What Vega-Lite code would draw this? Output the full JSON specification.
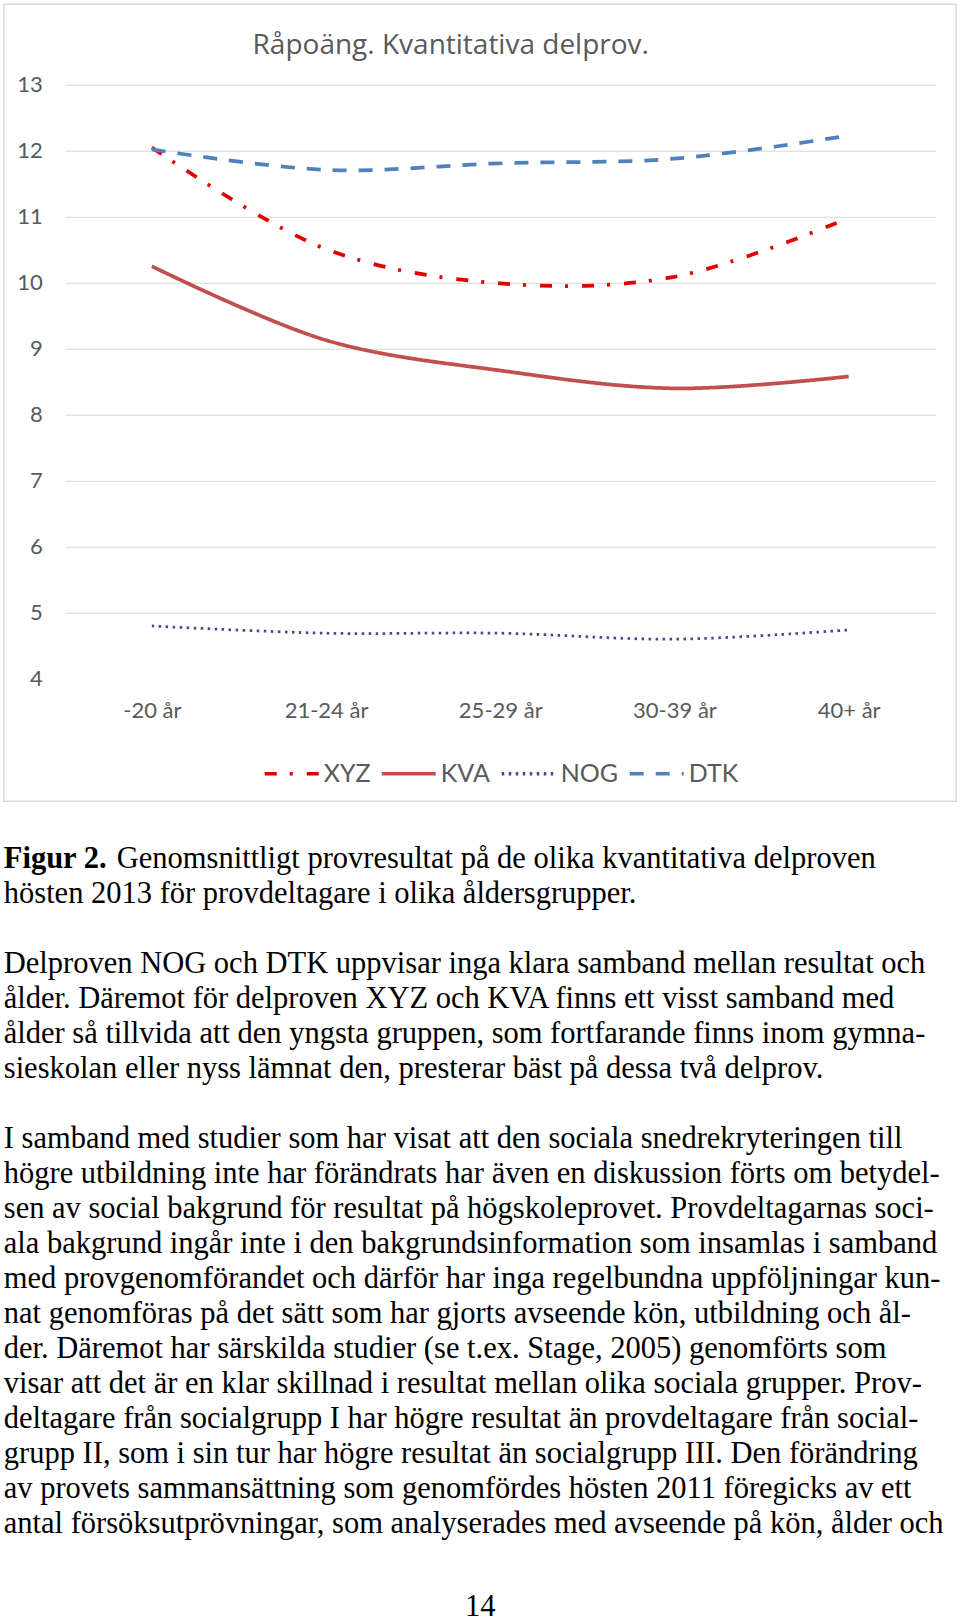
{
  "$schema": "https://vega.github.io/schema/vega-lite/v6.json",
  "background": "white",
  "padding": {"left": 2.75, "top": 2.75, "right": 0, "bottom": 0},
  "autosize": {"type": "pad"},
  "spacing": 39,
  "resolve": {"legend": {"color": "independent", "strokeDash": "independent"}},
  "datasets": {
    "scores": [
      {"series": "XYZ", "age": "-20 år", "score": 12.05},
      {"series": "XYZ", "age": "21-24 år", "score": 10.51},
      {"series": "XYZ", "age": "25-29 år", "score": 9.99},
      {"series": "XYZ", "age": "30-39 år", "score": 10.09},
      {"series": "XYZ", "age": "40+ år", "score": 10.98},
      {"series": "KVA", "age": "-20 år", "score": 10.25},
      {"series": "KVA", "age": "21-24 år", "score": 9.13},
      {"series": "KVA", "age": "25-29 år", "score": 8.67},
      {"series": "KVA", "age": "30-39 år", "score": 8.4},
      {"series": "KVA", "age": "40+ år", "score": 8.58},
      {"series": "NOG", "age": "-20 år", "score": 4.8},
      {"series": "NOG", "age": "21-24 år", "score": 4.69},
      {"series": "NOG", "age": "25-29 år", "score": 4.69},
      {"series": "NOG", "age": "30-39 år", "score": 4.6},
      {"series": "NOG", "age": "40+ år", "score": 4.74},
      {"series": "DTK", "age": "-20 år", "score": 12.02},
      {"series": "DTK", "age": "21-24 år", "score": 11.71},
      {"series": "DTK", "age": "25-29 år", "score": 11.81},
      {"series": "DTK", "age": "30-39 år", "score": 11.88},
      {"series": "DTK", "age": "40+ år", "score": 12.23}
    ],
    "page": [
      {"line": 0, "kind": "lead", "text": "Figur 2."},
      {"line": 0, "kind": "caption", "text": "Genomsnittligt provresultat på de olika kvantitativa delproven"},
      {"line": 1, "kind": "body", "text": "hösten 2013 för provdeltagare i olika åldersgrupper."},
      {"line": 3, "kind": "body", "text": "Delproven NOG och DTK uppvisar inga klara samband mellan resultat och"},
      {"line": 4, "kind": "body", "text": "ålder. Däremot för delproven XYZ och KVA finns ett visst samband med"},
      {"line": 5, "kind": "body", "text": "ålder så tillvida att den yngsta gruppen, som fortfarande finns inom gymna-"},
      {"line": 6, "kind": "body", "text": "sieskolan eller nyss lämnat den, presterar bäst på dessa två delprov."},
      {"line": 8, "kind": "body", "text": "I samband med studier som har visat att den sociala snedrekryteringen till"},
      {"line": 9, "kind": "body", "text": "högre utbildning inte har förändrats har även en diskussion förts om betydel-"},
      {"line": 10, "kind": "body", "text": "sen av social bakgrund för resultat på högskoleprovet. Provdeltagarnas soci-"},
      {"line": 11, "kind": "body", "text": "ala bakgrund ingår inte i den bakgrundsinformation som insamlas i samband"},
      {"line": 12, "kind": "body", "text": "med provgenomförandet och därför har inga regelbundna uppföljningar kun-"},
      {"line": 13, "kind": "body", "text": "nat genomföras på det sätt som har gjorts avseende kön, utbildning och ål-"},
      {"line": 14, "kind": "body", "text": "der. Däremot har särskilda studier (se t.ex. Stage, 2005) genomförts som"},
      {"line": 15, "kind": "body", "text": "visar att det är en klar skillnad i resultat mellan olika sociala grupper. Prov-"},
      {"line": 16, "kind": "body", "text": "deltagare från socialgrupp I har högre resultat än provdeltagare från social-"},
      {"line": 17, "kind": "body", "text": "grupp II, som i sin tur har högre resultat än socialgrupp III. Den förändring"},
      {"line": 18, "kind": "body", "text": "av provets sammansättning som genomfördes hösten 2011 föregicks av ett"},
      {"line": 19, "kind": "body", "text": "antal försöksutprövningar, som analyserades med avseende på kön, ålder och"},
      {"line": 21.38, "kind": "pagenum", "text": "14"}
    ]
  },
  "vconcat": [
    {
      "width": 871,
      "height": 594,
      "title": {
        "text": "Råpoäng. Kvantitativa delprov.",
        "font": "Open Sans",
        "fontSize": 28,
        "fontWeight": "normal",
        "color": "#595959",
        "anchor": "middle",
        "frame": "group",
        "baseline": "alphabetic",
        "dx": -49.5,
        "offset": -78
      },
      "layer": [
        {
          "data": {"values": [{}]},
          "mark": {"type": "rect", "fillOpacity": 0, "fill": "white", "stroke": "#d9d9d9", "strokeWidth": 1.5},
          "encoding": {
            "x": {"datum": -0.0700, "type": "quantitative", "scale": {"domain": [0, 1], "nice": false, "zero": false}, "axis": null},
            "x2": {"datum": 1.0235},
            "y": {"datum": 1.1355, "type": "quantitative", "scale": {"domain": [0, 1], "nice": false, "zero": false}, "axis": null},
            "y2": {"datum": -0.2062}
          }
        },
        {
          "data": {"name": "scores"},
          "encoding": {
            "x": {
              "field": "age", "type": "ordinal",
              "sort": ["-20 år", "21-24 år", "25-29 år", "30-39 år", "40+ år"],
              "scale": {"type": "point", "padding": 0.5},
              "axis": {"title": null, "labelAngle": 0, "labelFont": "Lato", "labelFontSize": 22, "labelColor": "#595959", "ticks": false, "domain": false, "grid": false, "labelPadding": 22}
            },
            "y": {
              "field": "score", "type": "quantitative",
              "scale": {"domain": [4, 13], "nice": false, "zero": false},
              "axis": {
                "title": null, "values": [4, 5, 6, 7, 8, 9, 10, 11, 12, 13],
                "grid": true, "gridColor": "#d9d9d9", "gridWidth": 1.2,
                "gridOpacity": {"condition": {"test": "datum.value === 4", "value": 0}, "value": 1},
                "domain": false, "ticks": false,
                "labelFont": "Lato", "labelFontSize": 22, "labelColor": "#595959", "labelPadding": 22.5
              }
            },
            "color": {
              "field": "series", "type": "nominal",
              "scale": {"domain": ["XYZ", "KVA", "NOG", "DTK"], "range": ["#e00000", "#c0504d", "#5c3d8a", "#4f81bd"]},
              "legend": {"title": null}
            },
            "strokeDash": {
              "field": "series", "type": "nominal",
              "scale": {"domain": ["XYZ", "KVA", "NOG", "DTK"], "range": [[12, 13, 3, 14], [1, 0], [2.5, 4.5], [14, 12]]},
              "legend": {"title": null}
            }
          },
          "layer": [
            {
              "transform": [{"filter": "datum.series !== 'NOG'"}],
              "mark": {"type": "line", "strokeWidth": 3.75, "interpolate": "catmull-rom"}
            },
            {
              "transform": [{"filter": "datum.series === 'NOG'"}],
              "mark": {"type": "line", "strokeWidth": 2.75, "interpolate": "catmull-rom"}
            }
          ]
        }
      ],
      "resolve": {"scale": {"x": "independent", "y": "independent"}}
    },
    {
      "width": 871,
      "height": 778.75,
      "data": {"name": "page"},
      "encoding": {
        "y": {"field": "line", "type": "quantitative", "scale": {"domain": [-0.75, 21.5], "nice": false, "zero": false, "reverse": true}, "axis": null}
      },
      "layer": [
        {
          "transform": [{"filter": "datum.kind === 'body'"}],
          "mark": {"type": "text", "align": "left", "baseline": "alphabetic", "font": "Liberation Serif", "fontSize": 30.5, "color": "#000000"},
          "encoding": {
            "x": {"datum": -0.0700, "type": "quantitative", "scale": {"domain": [0, 1], "nice": false, "zero": false}, "axis": null},
            "text": {"field": "text"}
          }
        },
        {
          "transform": [{"filter": "datum.kind === 'lead'"}],
          "mark": {"type": "text", "align": "left", "baseline": "alphabetic", "font": "Liberation Serif", "fontSize": 30.5, "fontWeight": "bold", "color": "#000000"},
          "encoding": {
            "x": {"datum": -0.0700, "type": "quantitative"},
            "text": {"field": "text"}
          }
        },
        {
          "transform": [{"filter": "datum.kind === 'caption'"}],
          "mark": {"type": "text", "align": "left", "baseline": "alphabetic", "font": "Liberation Serif", "fontSize": 30.5, "color": "#000000", "dx": 113},
          "encoding": {
            "x": {"datum": -0.0700, "type": "quantitative"},
            "text": {"field": "text"}
          }
        },
        {
          "transform": [{"filter": "datum.kind === 'pagenum'"}],
          "mark": {"type": "text", "align": "center", "baseline": "alphabetic", "font": "Liberation Serif", "fontSize": 30.5, "color": "#000000"},
          "encoding": {
            "x": {"datum": 0.477, "type": "quantitative"},
            "text": {"field": "text"}
          }
        }
      ]
    }
  ],
  "config": {
    "view": {"stroke": null},
    "legend": {
      "orient": "bottom",
      "direction": "horizontal",
      "layout": {"bottom": {"anchor": "middle"}},
      "symbolType": "stroke",
      "symbolSize": 2916,
      "symbolStrokeWidth": 3.5,
      "labelFont": "Lato",
      "labelFontSize": 25,
      "labelColor": "#595959",
      "labelOffset": 3,
      "columnPadding": 4,
      "offset": 23
    }
  }
}
